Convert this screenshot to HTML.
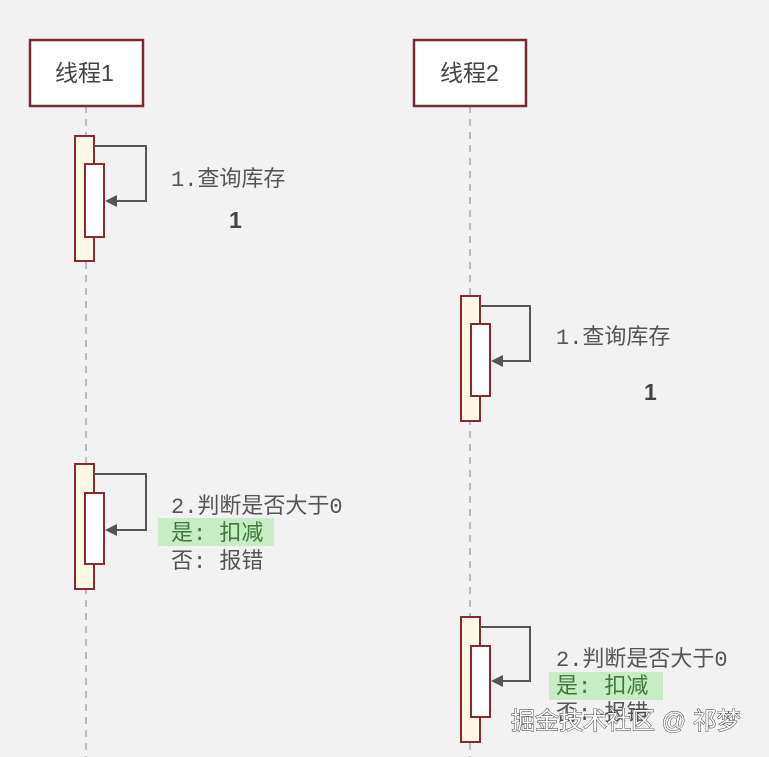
<!DOCTYPE html>
<html><head><meta charset="utf-8"><style>
html,body{margin:0;padding:0;background:#f2f2f2;}
svg{display:block;}
.t{font-family:"Liberation Mono","Noto Sans CJK SC",monospace;fill:#555;font-size:22px;}
.h{font-family:"Liberation Sans","Noto Sans CJK SC",sans-serif;fill:#444;font-size:23px;}
.b{font-family:"Liberation Sans",sans-serif;font-weight:bold;font-size:23px;fill:#444;}
.w{font-family:"Liberation Sans","Noto Sans CJK SC",sans-serif;font-size:24px;fill:#fff;stroke:#333;stroke-width:0.9px;paint-order:stroke;}
</style></head><body>
<svg width="769" height="757" viewBox="0 0 769 757" xmlns="http://www.w3.org/2000/svg">
<rect width="769" height="757" fill="#f2f2f2"/>
<g stroke="#bbb" stroke-width="2" stroke-dasharray="7,6">
<line x1="86" y1="106" x2="86" y2="757"/>
<line x1="470" y1="106" x2="470" y2="757"/>
</g>
<g fill="#fff" stroke="#7a2a30" stroke-width="2.5">
<rect x="30" y="40" width="113" height="66"/>
<rect x="414" y="40" width="112" height="66"/>
</g>
<text class="h" x="55" y="81">线程1</text>
<text class="h" x="440" y="81">线程2</text>
<g stroke="#8a2a30" stroke-width="2">
<rect x="75" y="136" width="19" height="125" fill="#fdf7e3"/>
<rect x="85" y="164" width="19" height="73" fill="#fff"/>
<rect x="461" y="296" width="19" height="125" fill="#fdf7e3"/>
<rect x="471" y="324" width="19" height="72" fill="#fff"/>
<rect x="75" y="464" width="19" height="125" fill="#fdf7e3"/>
<rect x="85" y="493" width="19" height="71" fill="#fff"/>
<rect x="461" y="617" width="19" height="125" fill="#fdf7e3"/>
<rect x="471" y="646" width="19" height="71" fill="#fff"/>
</g>
<g fill="none" stroke="#555" stroke-width="2">
<polyline points="94,146 146,146 146,201 110,201"/>
<polyline points="480,306 530,306 530,361 496,361"/>
<polyline points="94,474 146,474 146,530 110,530"/>
<polyline points="480,627 530,627 530,681 496,681"/>
</g>
<g fill="#555">
<polygon points="105,201 117,195 117,207"/>
<polygon points="491,361 503,355 503,367"/>
<polygon points="105,530 117,524 117,536"/>
<polygon points="491,681 503,675 503,687"/>
</g>
<rect x="158" y="518" width="116" height="28" fill="#c8ecc4"/>
<rect x="549" y="672" width="114" height="28" fill="#c8ecc4"/>
<text class="t" x="171" y="186">1.查询库存</text>
<text class="b" x="229" y="228">1</text>
<text class="t" x="556" y="344">1.查询库存</text>
<text class="b" x="644" y="400">1</text>
<text class="t" x="171" y="513">2.判断是否大于0</text>
<text class="t" x="171" y="540" style="fill:#3d7a3a">是: 扣减</text>
<text class="t" x="171" y="568">否: 报错</text>
<text class="t" x="556" y="666">2.判断是否大于0</text>
<text class="t" x="556" y="693" style="fill:#3d7a3a">是: 扣减</text>
<text class="t" x="556" y="720">否: 报错</text>
<text class="w" x="511" y="729">掘金技术社区 @ 祁梦</text>
</svg>
</body></html>
